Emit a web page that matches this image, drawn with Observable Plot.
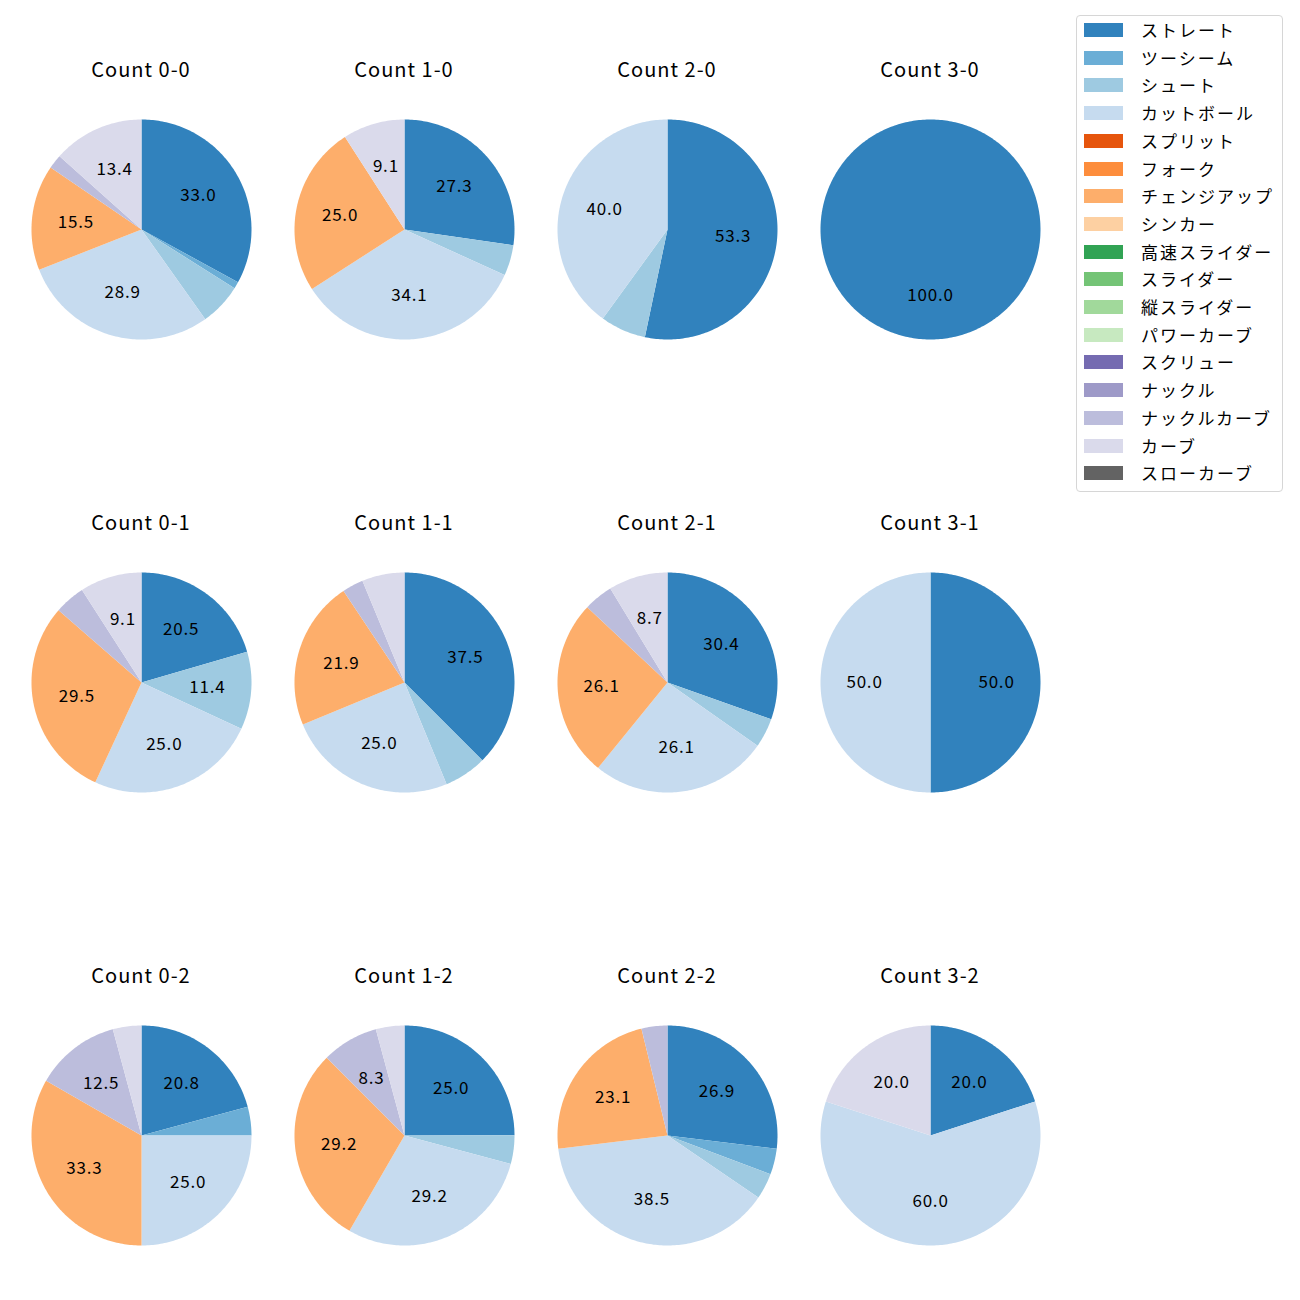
<!DOCTYPE html>
<html>
<head>
<meta charset="utf-8">
<script src="https://cdn.jsdelivr.net/npm/d3@7"></script>
<script src="https://cdn.jsdelivr.net/npm/@observablehq/plot@0.6"></script>
<style>
  html, body { margin: 0; padding: 0; background: #fff; }
  #root { position: relative; width: 1300px; height: 1300px; font-family: "Noto Sans CJK JP", "Noto Sans", sans-serif; color: #000; }
  .pie { position: absolute; }
  .title { position: absolute; width: 200px; text-align: center; font-size: 20px; line-height: 24px; letter-spacing: 1px; }
  .legend { position: absolute; left: 1076px; top: 15px; width: 207px; height: 477px; border: 1px solid #d6d6d6; border-radius: 4px; box-sizing: border-box; }
  .li { position: absolute; left: 7px; height: 20px; font-size: 17px; line-height: 20px; white-space: nowrap; }
  .sw { position: absolute; left: 0; top: 3px; width: 39px; height: 14px; }
  .lt { position: absolute; left: 57px; top: 0; letter-spacing: 2px; }
</style>
</head>
<body>
<div id="root"></div>
<script>
// Pitch types (legend order) and their colours
const pitchTypes = ["ストレート","ツーシーム","シュート","カットボール","スプリット","フォーク","チェンジアップ","シンカー","高速スライダー","スライダー","縦スライダー","パワーカーブ","スクリュー","ナックル","ナックルカーブ","カーブ","スローカーブ"];
const pitchColors = ["#3182bd","#6baed6","#9ecae1","#c6dbef","#e6550d","#fd8d3c","#fdae6b","#fdd0a2","#31a354","#74c476","#a1d99b","#c7e9c0","#756bb1","#9e9ac8","#bcbddc","#dadaeb","#636363"];

// Count labels (row by row)
const countLabels = ["Count 0-0","Count 1-0","Count 2-0","Count 3-0",
                     "Count 0-1","Count 1-1","Count 2-1","Count 3-1",
                     "Count 0-2","Count 1-2","Count 2-2","Count 3-2"];

// Percentages per count, in legend order (ストレート ... スローカーブ)
const count00 = [33.0, 1.0, 6.2, 28.9, 0, 0, 15.5, 0, 0, 0, 0, 0, 0, 0, 2.1, 13.4, 0];
const count10 = [27.3, 0, 4.5, 34.1, 0, 0, 25.0, 0, 0, 0, 0, 0, 0, 0, 0, 9.1, 0];
const count20 = [53.3, 0, 6.7, 40.0, 0, 0, 0, 0, 0, 0, 0, 0, 0, 0, 0, 0, 0];
const count30 = [100.0, 0, 0, 0, 0, 0, 0, 0, 0, 0, 0, 0, 0, 0, 0, 0, 0];
const count01 = [20.5, 0, 11.4, 25.0, 0, 0, 29.5, 0, 0, 0, 0, 0, 0, 0, 4.5, 9.1, 0];
const count11 = [37.5, 0, 6.25, 25.0, 0, 0, 21.9, 0, 0, 0, 0, 0, 0, 0, 3.1, 6.25, 0];
const count21 = [30.4, 0, 4.3, 26.1, 0, 0, 26.1, 0, 0, 0, 0, 0, 0, 0, 4.3, 8.7, 0];
const count31 = [50.0, 0, 0, 50.0, 0, 0, 0, 0, 0, 0, 0, 0, 0, 0, 0, 0, 0];
const count02 = [20.8, 4.2, 0, 25.0, 0, 0, 33.3, 0, 0, 0, 0, 0, 0, 0, 12.5, 4.2, 0];
const count12 = [25.0, 0, 4.2, 29.2, 0, 0, 29.2, 0, 0, 0, 0, 0, 0, 0, 8.3, 4.2, 0];
const count22 = [26.9, 3.8, 3.8, 38.5, 0, 0, 23.1, 0, 0, 0, 0, 0, 0, 0, 3.8, 0, 0];
const count32 = [20.0, 0, 0, 60.0, 0, 0, 0, 0, 0, 0, 0, 0, 0, 0, 0, 20.0, 0];

const allCounts = [count00, count10, count20, count30, count01, count11, count21, count31, count02, count12, count22, count32];

// Layout
const colCenters = [141, 404, 667, 930];
const rowCenters = [229, 682, 1135];
const R = 110;            // pixel radius
const half = 1.2;         // domain half-extent
const size = Math.round(2 * R * half); // 264

const root = document.getElementById("root");

function pieData(values) {
  const total = d3.sum(values);
  const pts = [];
  const labels = [];
  let cum = 0;
  values.forEach((v, i) => {
    if (!(v > 0)) return;
    const a0 = cum / total * 2 * Math.PI;
    cum += v;
    const a1 = cum / total * 2 * Math.PI;
    const key = pitchTypes[i];
    const full = v / total >= 0.9999;
    if (!full) pts.push({key, type: key, x: 0, y: 0});
    const n = Math.max(2, Math.ceil((a1 - a0) / (Math.PI / 180)));
    for (let k = 0; k <= n; k++) {
      const a = a0 + (a1 - a0) * k / n;
      pts.push({key, type: key, x: Math.sin(a), y: Math.cos(a)});
    }
    if (!full) pts.push({key, type: key, x: 0, y: 0});
    const pct = v / total * 100;
    if (pct >= 7) {
      const am = (a0 + a1) / 2;
      labels.push({x: 0.6 * Math.sin(am), y: 0.6 * Math.cos(am), text: pct.toFixed(1)});
    }
  });
  return {pts, labels};
}

allCounts.forEach((values, idx) => {
  const r = Math.floor(idx / 4), c = idx % 4;
  const cx = colCenters[c], cy = rowCenters[r];
  const {pts, labels} = pieData(values);
  const chart = Plot.plot({
    width: size, height: size,
    margin: 0,
    x: {domain: [-half, half], axis: null},
    y: {domain: [-half, half], axis: null},
    color: {domain: pitchTypes, range: pitchColors},
    marks: [
      Plot.line(pts, {x: "x", y: "y", z: "key", fill: "type", stroke: null, curve: "linear"}),
      Plot.text(labels, {x: "x", y: "y", text: "text", fontSize: 17, fill: "#000", fontFamily: "Noto Sans CJK JP"})
    ],
    style: {background: "transparent", overflow: "visible", letterSpacing: "0.8px"}
  });
  const div = document.createElement("div");
  div.className = "pie";
  div.style.left = (cx - size / 2) + "px";
  div.style.top = (cy - size / 2) + "px";
  div.appendChild(chart);
  root.appendChild(div);

  const t = document.createElement("div");
  t.className = "title";
  t.textContent = countLabels[idx];
  t.style.left = (cx - 100) + "px";
  t.style.top = (cy - 160 - 12) + "px";
  root.appendChild(t);
});

// Legend
const legend = document.createElement("div");
legend.className = "legend";
pitchTypes.forEach((name, i) => {
  const item = document.createElement("div");
  item.className = "li";
  item.style.top = (4 + i * 27.7) + "px";
  const sw = document.createElement("div");
  sw.className = "sw";
  sw.style.background = pitchColors[i];
  const lt = document.createElement("div");
  lt.className = "lt";
  lt.textContent = name;
  item.appendChild(sw);
  item.appendChild(lt);
  legend.appendChild(item);
});
root.appendChild(legend);
</script>
</body>
</html>
